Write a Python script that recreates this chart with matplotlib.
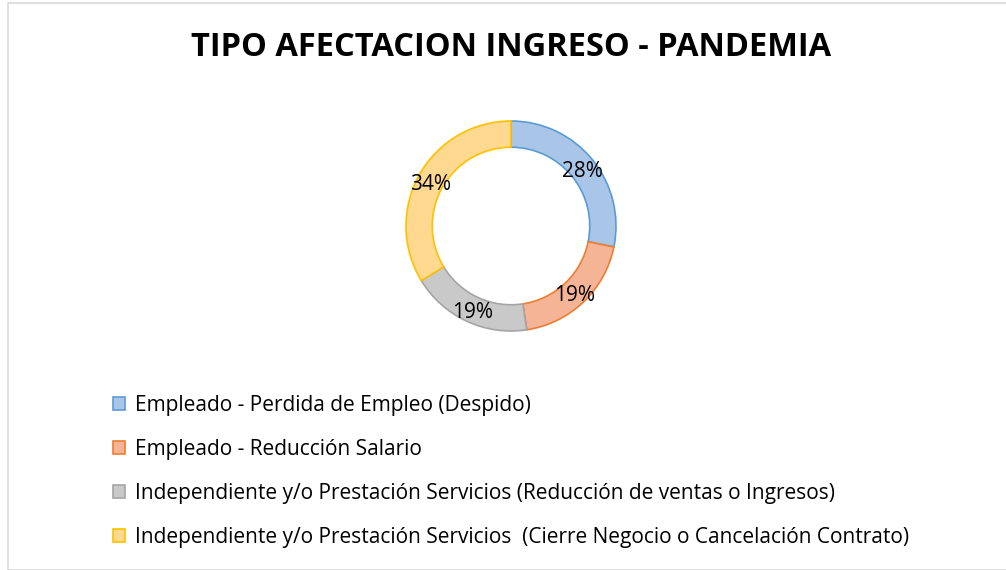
import matplotlib.pyplot as plt
from matplotlib.patches import Rectangle

# Data
categories = [
    "Empleado - Perdida de Empleo (Despido)",
    "Empleado - Reducción Salario",
    "Independiente y/o Prestación Servicios (Reducción de ventas o Ingresos)",
    "Independiente y/o Prestación Servicios  (Cierre Negocio o Cancelación Contrato)",
]
shares = [28.2, 19.4, 18.7, 33.7]
face_colors = ["#A9C5E8", "#F5B495", "#C9C9C9", "#FFD98F"]
edge_colors = ["#5B9BD5", "#ED7D31", "#A5A5A5", "#FFC000"]

plt.rcParams["font.family"] = ["Open Sans", "DejaVu Sans"]

fig = plt.figure(figsize=(10.06, 5.70), dpi=100)

# light chart-area border
fig.patches.append(Rectangle((8 / 1006, 0), 1.0, (570 - 3) / 570, transform=fig.transFigure,
                             fill=False, edgecolor="#D9D9D9", linewidth=1.2))

fig.text(511 / 1006, 1 - 48 / 570, "TIPO AFECTACION INGRESO - PANDEMIA",
         ha="center", va="center", fontsize=23.5, fontweight="bold", color="black")

ax = fig.add_axes([406 / 1006, 239 / 570, 210 / 1006, 210 / 570])
wedges, texts, autotexts = ax.pie(
    shares, colors=face_colors, startangle=90, counterclock=False,
    radius=1.0, autopct="%.0f%%", pctdistance=0.875,
    wedgeprops=dict(width=0.25, linewidth=1.2),
    textprops=dict(fontsize=15, color="black"))
for w, ec in zip(wedges, edge_colors):
    w.set_edgecolor(ec)
# nudge labels slightly down, as in the original
for t in autotexts:
    x, y = t.get_position()
    t.set_position((x, y - 0.03))
ax.set_xlim(-1, 1)
ax.set_ylim(-1, 1)
ax.set_aspect("equal")
ax.axis("off")

fig.legend(wedges, categories, loc="upper left",
           bbox_to_anchor=(94 / 1006, 1 - 376 / 570),
           frameon=False, fontsize=15, labelspacing=1.1,
           handlelength=0.58, handleheight=0.58, handletextpad=0.5)

fig.savefig("out.png", dpi=100)
